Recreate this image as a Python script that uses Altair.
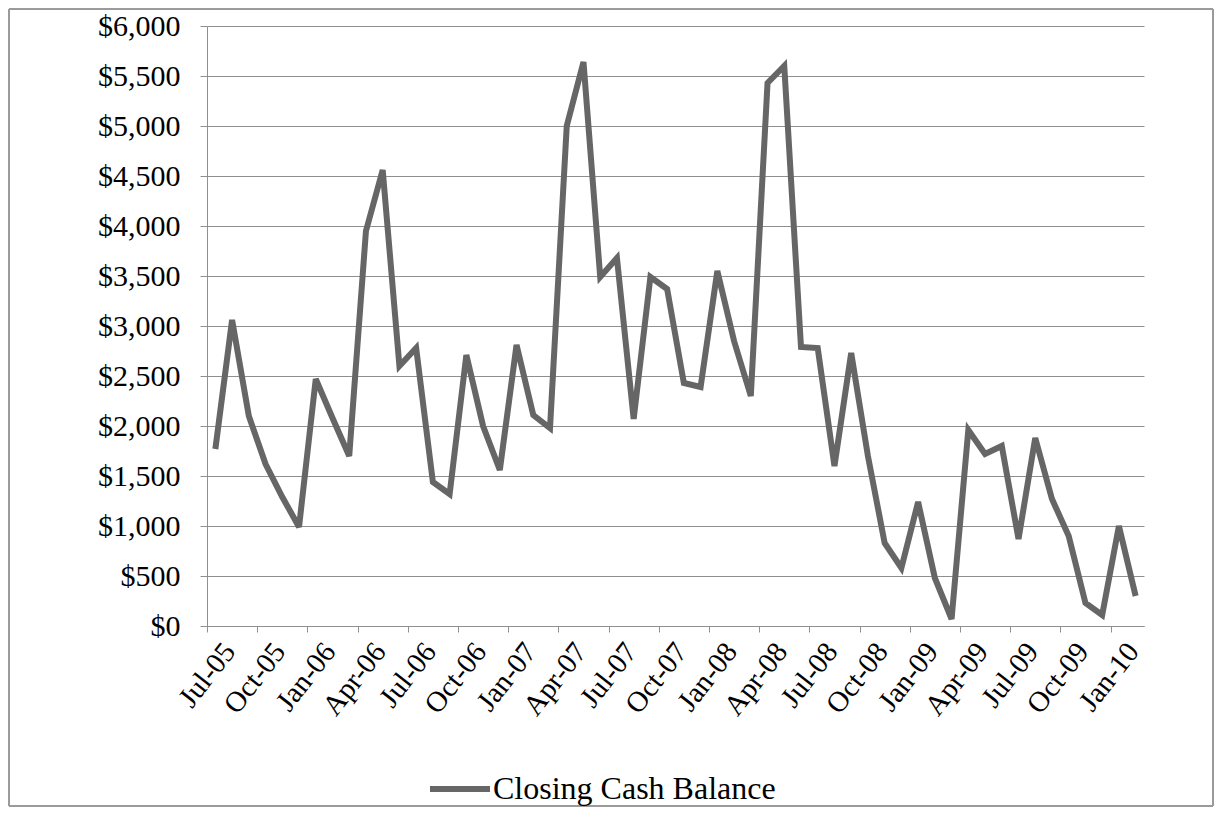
import altair as alt
import pandas as pd

# Monthly closing cash balance, Jul-05 .. Feb-10 (56 months)
values = [1770, 3060, 2100, 1620, 1290, 990, 2470, 2080, 1700, 3950,
          4560, 2600, 2780, 1440, 1320, 2710, 2000, 1560, 2810, 2110,
          1980, 5000, 5640, 3490, 3680, 2070, 3490, 3370, 2430, 2390,
          3550, 2850, 2300, 5430, 5600, 2790, 2780, 1600, 2730, 1700,
          830, 580, 1240, 480, 70, 1960, 1720, 1800, 870, 1880,
          1270, 900, 230, 110, 1000, 300]
months = pd.date_range("2005-07-01", periods=len(values), freq="MS").strftime("%b-%y").tolist()
tick_labels = ["Jul-05", "Oct-05", "Jan-06", "Apr-06", "Jul-06", "Oct-06", "Jan-07",
               "Apr-07", "Jul-07", "Oct-07", "Jan-08", "Apr-08", "Jul-08", "Oct-08",
               "Jan-09", "Apr-09", "Jul-09", "Oct-09", "Jan-10"]
y_ticks = list(range(0, 6001, 500))
series_name = "Closing Cash Balance"

df = pd.DataFrame({"month": months, "idx": list(range(len(values))), "value": values,
                   "series": series_name})

FONT = "Liberation Serif"
GRID = "#8f8f8f"
W, H = 937, 600
PL, PT, PR, PB = 199, 18, 70, 181

label_expr = "[" + ",".join("'%s'" % t for t in tick_labels) + "][round(datum.value/3)]"

line = alt.Chart(df).transform_calculate(
    xpos="datum.idx + 0.5"
).mark_line(strokeWidth=6, strokeJoin="miter", strokeMiterLimit=3).encode(
    x=alt.X("xpos:Q",
            scale=alt.Scale(domain=[0, len(values)], nice=False, zero=False),
            axis=alt.Axis(values=list(range(0, 55, 3)), labelExpr=label_expr, title=None,
                          grid=False, domainColor=GRID, tickColor=GRID, tickSize=6,
                          labelAngle=-52, labelAlign="right", labelBaseline="middle",
                          labelFont=FONT, labelFontSize=29, labelColor="black",
                          labelPadding=14, labelOffset=22, labelOverlap=False)),
    y=alt.Y("value:Q",
            scale=alt.Scale(domain=[0, 6000], nice=False),
            axis=alt.Axis(values=y_ticks, format="$,.0f", title=None, grid=True,
                          gridColor=GRID, gridWidth=1, domainColor=GRID, tickColor=GRID,
                          tickSize=7, labelFont=FONT, labelFontSize=30, labelColor="black",
                          labelPadding=20)),
    color=alt.Color("series:N",
                    scale=alt.Scale(range=["#666666"]),
                    legend=alt.Legend(title=None, orient="none", legendX=220, legendY=730,
                                      symbolType="stroke", symbolSize=3600,
                                      symbolStrokeWidth=6, labelFont=FONT,
                                      labelFontSize=32, labelColor="black", labelOffset=0,
                                      labelLimit=500, padding=0))
)

frame = alt.Chart(df).mark_rect(fill=None, stroke="#9a9a9a", strokeWidth=1).encode(
    x=alt.value(-PL + 1), x2=alt.value(W + PR - 1),
    y=alt.value(-PT + 1), y2=alt.value(H + PB - 1)
)

chart = alt.layer(line, frame).properties(
    width=W, height=H,
    autosize=alt.AutoSizeParams(type="none"),
    padding={"left": PL, "top": PT, "right": PR, "bottom": PB},
    background="white"
).configure_view(stroke=None)

chart.save("out.html", embed_options={"renderer": "svg", "actions": False})
